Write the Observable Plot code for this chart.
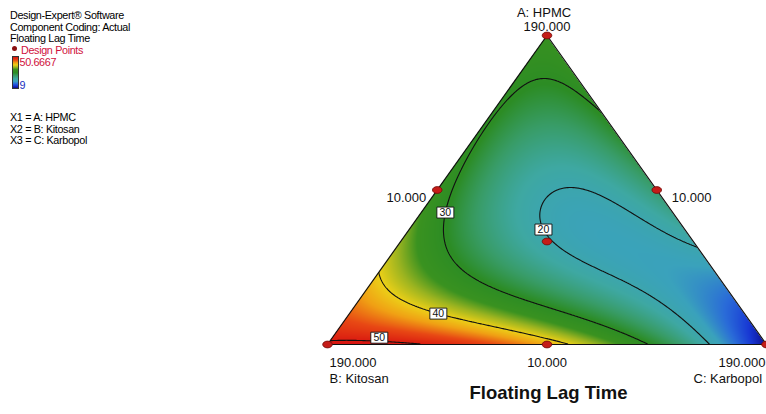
<!DOCTYPE html>
<html>
<head>
<meta charset="utf-8">
<script src="https://cdn.jsdelivr.net/npm/d3@7"></script>
<script src="https://cdn.jsdelivr.net/npm/@observablehq/plot@0.6"></script>
<style>
  html, body { margin: 0; padding: 0; background: white; overflow: hidden; }
  #wrap { position: relative; width: 766px; height: 414px; }
  #legend { position: absolute; left: 0; top: 0; font-family: 'Liberation Sans', Arial, sans-serif; font-size: 10.8px; letter-spacing: -0.35px; color: #000; }
  #legend .t { position: absolute; white-space: nowrap; line-height: 12px; }
  #legend .bar { position: absolute; left: 12px; top: 56px; width: 5px; height: 31px; border: 0.6px solid #333; }
  #legend .pt { position: absolute; left: 12px; top: 46px; width: 5px; height: 5px; border-radius: 50%; background: #8a1010; }
</style>
</head>
<body>
<div id="wrap"><div id="legend"></div></div>
<script>
// ---------- data ----------
// Simplex-centroid design (actual component amounts) and measured Floating Lag Time
const hpmc     = [190, 10, 10, 100, 100, 10, 70];
const kitosan  = [10, 190, 10, 100, 10, 100, 70];
const karbopol = [10, 10, 190, 10, 100, 100, 70];
const lagTime  = [33.0, 50.6667, 9.0, 32.7, 25.0, 42.3, 20.3];

const componentLow = 10, componentHigh = 190;
const vertexNames = ["A: HPMC", "B: Kitosan", "C: Karbopol"];
const highTick = "190.000", lowTick = "10.000";
const contourLevels = [20, 30, 40, 50];
const responseName = "Floating Lag Time";
const legendHeader = ["Design-Expert\u00AE Software", "Component Coding: Actual", "Floating Lag Time"];
const legendFactors = ["X1 = A: HPMC", "X2 = B: Kitosan", "X3 = C: Karbopol"];
const legendMax = "50.6667", legendMin = "9";

// colour map (Design-Expert style: blue -> cyan -> green -> yellow -> red)
const colorStops = [9, 12, 15, 18, 21.5, 25.5, 29.5, 34, 37, 40, 43, 46.5, 50.67];
const colorRamp  = ["#0c0c8c","#1838d4","#2a6cd8","#3aa2bc","#3ea8a2","#389c66","#2c8c24","#3a9220","#9cb420","#ecd018","#f0a014","#e84814","#d81410"];

// ---------- model: Scheffe special cubic fitted to the design points ----------
const span = componentHigh - componentLow;
const pseudo = hpmc.map((h, i) => [(h - componentLow) / span, (kitosan[i] - componentLow) / span, (karbopol[i] - componentLow) / span]);
const terms = ([a, b, c]) => [a, b, c, a*b, a*c, b*c, a*b*c];
function solve(M, y) {
  const n = y.length, A = M.map((r, i) => [...r, y[i]]);
  for (let k = 0; k < n; k++) {
    let p = k; for (let i = k + 1; i < n; i++) if (Math.abs(A[i][k]) > Math.abs(A[p][k])) p = i;
    [A[k], A[p]] = [A[p], A[k]];
    for (let i = 0; i < n; i++) if (i !== k) { const f = A[i][k] / A[k][k]; for (let j = k; j <= n; j++) A[i][j] -= f * A[k][j]; }
  }
  return A.map((r, i) => r[n] / r[i]);
}
const coef = solve(pseudo.map(terms), lagTime);
const model = (abc) => terms(abc).reduce((s, t, i) => s + t * coef[i], 0);
// frame coords: x = c + a/2, y = a
const toXY = ([a, b, c]) => ({x: c + a / 2, y: a});
const surface = (x, y) => { const a = y, c = x - y / 2, b = 1 - a - c; return model([a, b, c]); };

// ---------- geometry helpers ----------
const VA = toXY([1,0,0]), VB = toXY([0,1,0]), VC = toXY([0,0,1]);
const mid = (p, q) => ({x: (p.x + q.x) / 2, y: (p.y + q.y) / 2});
const outline = [VA, VB, VC, VA];
const leftMask = [{x: -0.02, y1: -0.04, y2: 1.03}, {x: VA.x, y1: VA.y, y2: 1.03}];
const rightMask = [{x: VA.x, y1: VA.y, y2: 1.03}, {x: 1.02, y1: -0.04, y2: 1.03}];
const designPts = pseudo.map((p, i) => ({...toXY(p), v: lagTime[i]}));

// contour label placement: snap to the contour on a given row near a guess
const labelSpecs = [{level: 20, row: 0.372, gx: 0.503}, {level: 30, row: 0.427, gx: 0.278}, {level: 40, row: 0.10, gx: 0.296}, {level: 50, row: 0.022, gx: 0.118}];
function crossing(level, a, gx) {
  const n = 3000, xl = a / 2, xr = 1 - a / 2; let best = null, px = xl, pv = surface(xl, a) - level;
  for (let i = 1; i <= n; i++) {
    const x = xl + (xr - xl) * i / n, v = surface(x, a) - level;
    if (pv * v <= 0 && pv !== v) { const xc = px + (x - px) * pv / (pv - v); if (best === null || Math.abs(xc - gx) < Math.abs(best - gx)) best = xc; }
    px = x; pv = v;
  }
  return best === null ? gx : best;
}
const contourLabels = labelSpecs.map(s => ({x: crossing(s.level, s.row, s.gx), y: s.row, text: String(s.level)}));

// symbols
const ellipse = {draw(ctx) { const rx = 4.8, ry = 3.4, k = 0.5523;
  ctx.moveTo(rx, 0); ctx.bezierCurveTo(rx, ry*k, rx*k, ry, 0, ry); ctx.bezierCurveTo(-rx*k, ry, -rx, ry*k, -rx, 0);
  ctx.bezierCurveTo(-rx, -ry*k, -rx*k, -ry, 0, -ry); ctx.bezierCurveTo(rx*k, -ry, rx, -ry*k, rx, 0); ctx.closePath(); }};
const box = {draw(ctx) { ctx.rect(-8.5, -5.5, 17, 11); }};

// axis labels
const axisText = [
  {...VA, text: vertexNames[0], dx: -3, dy: -23, anchor: "middle"},
  {...VA, text: highTick, dx: 0, dy: -9, anchor: "middle"},
  {...mid(VA, VB), text: lowTick, dx: -11, dy: 8, anchor: "end"},
  {...mid(VA, VC), text: lowTick, dx: 15, dy: 8, anchor: "start"},
  {...mid(VB, VC), text: lowTick, dx: 0, dy: 18, anchor: "middle"},
  {...VB, text: highTick, dx: 2, dy: 18, anchor: "start"},
  {...VB, text: vertexNames[1], dx: 2, dy: 34, anchor: "start"},
  {...VC, text: highTick, dx: -48, dy: 18, anchor: "start"},
  {...VC, text: vertexNames[2], dx: -73, dy: 34, anchor: "start"}
];

const marks = [
  Plot.raster({x1: 0, x2: 1, y1: 0, y2: 1, fill: surface, pixelSize: 1}),
  Plot.contour({x1: 0, x2: 1, y1: 0, y2: 1, value: surface, thresholds: contourLevels, stroke: "#111", fill: "none", strokeWidth: 1.1, pixelSize: 1}),
  Plot.area(leftMask, {x1: "x", y1: "y1", y2: "y2", fill: "white", stroke: "white", strokeWidth: 1}),
  Plot.area(rightMask, {x1: "x", y1: "y1", y2: "y2", fill: "white", stroke: "white", strokeWidth: 1}),
  Plot.line(outline, {x: "x", y: "y", stroke: "#111", strokeWidth: 1.2}),
  Plot.dot(contourLabels, {x: "x", y: "y", symbol: box, r: 5, fill: "white", stroke: "#111", strokeWidth: 0.9}),
  Plot.text(contourLabels, {x: "x", y: "y", text: "text", fontSize: 10.5, fill: "#111"}),
  Plot.dot(designPts, {x: "x", y: "y", symbol: ellipse, r: 4, fill: "#c41c18", stroke: "#6e0a08", strokeWidth: 0.8}),
];
for (const d of axisText) {
  marks.push(Plot.text([d], {x: "x", y: "y", text: "text", dx: d.dx, dy: d.dy, textAnchor: d.anchor, fontSize: 13, fill: "#111"}));
}
marks.push(Plot.text([responseName], {frameAnchor: "bottom", dx: 1.5, dy: 54, fontSize: 18.5, fontWeight: "bold", fill: "#111"}));

const chart = Plot.plot({
  width: 766, height: 414,
  marginLeft: 327, marginRight: 0, marginTop: 35, marginBottom: 70,
  x: {domain: [0, 1], axis: null},
  y: {domain: [0, 1], axis: null},
  color: {type: "linear", domain: colorStops, range: colorRamp, clamp: true, interpolate: "rgb"},
  style: {fontFamily: "'Liberation Sans', Arial, sans-serif", background: "white"},
  marks
});
const wrap = document.getElementById("wrap");
wrap.insertBefore(chart, wrap.firstChild);

// ---------- legend (top-left) ----------
const lg = document.getElementById("legend");
const lo = colorStops[0], hi = colorStops[colorStops.length - 1];
const grad = colorStops.map((v, i) => `${colorRamp[i]} ${((v - lo) / (hi - lo) * 100).toFixed(1)}%`).join(", ");
let html = "";
legendHeader.forEach((t, i) => { html += `<div class="t" style="left:10px;top:${9 + i * 11.7}px">${t}</div>`; });
html += `<div class="pt"></div><div class="t" style="left:21px;top:44px;color:#d0103c">Design Points</div>`;
html += `<div class="bar" style="background:linear-gradient(to top, ${grad})"></div>`;
html += `<div class="t" style="left:19.5px;top:56px;color:#d0103c">${legendMax}</div>`;
html += `<div class="t" style="left:19.5px;top:79px;color:#2030c0">${legendMin}</div>`;
legendFactors.forEach((t, i) => { html += `<div class="t" style="left:10px;top:${111 + i * 11.7}px">${t}</div>`; });
lg.innerHTML = html;
</script>
</body>
</html>
